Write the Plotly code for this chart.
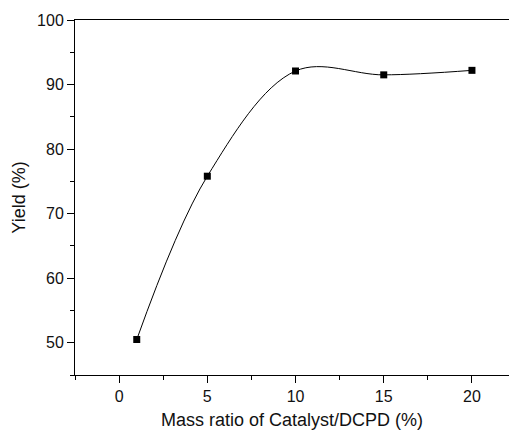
import plotly.graph_objects as go

# Catalyst loading (mass % of DCPD) and the resulting yield
mass_ratio = [1, 5, 10, 15, 20]
yield_pct = [50.5, 75.8, 92.1, 91.5, 92.2]

x_ticks = [0, 5, 10, 15, 20]
y_ticks = [50, 60, 70, 80, 90, 100]

font_family = "Liberation Sans, Arial, sans-serif"

fig = go.Figure()
fig.add_trace(go.Scatter(
    x=mass_ratio,
    y=yield_pct,
    mode="lines+markers",
    line=dict(color="black", width=1, shape="spline", smoothing=1.0),
    marker=dict(symbol="square", size=7, color="black"),
    showlegend=False,
))

axis_common = dict(
    showgrid=False,
    zeroline=False,
    showline=True,
    linecolor="black",
    linewidth=1,
    ticks="outside",
    ticklen=7,
    tickwidth=1,
    tickcolor="black",
    tickfont=dict(family=font_family, size=16, color="#111"),
)

fig.update_xaxes(
    **axis_common,
    range=[-2.5, 22.1],
    tickvals=x_ticks,
    mirror=True,
    minor=dict(ticks="outside", ticklen=4, tickcolor="black", dtick=2.5, tick0=-2.5),
    title=dict(text="Mass ratio of Catalyst/DCPD (%)",
               font=dict(family=font_family, size=18, color="#111"), standoff=9),
)
fig.update_yaxes(
    **axis_common,
    range=[45, 100],
    tickvals=y_ticks,
    minor=dict(ticks="outside", ticklen=4, tickcolor="black", dtick=5, tick0=45),
    title=dict(text="Yield (%)",
               font=dict(family=font_family, size=18, color="#111"), standoff=6),
)

fig.update_layout(
    width=509,
    height=430,
    margin=dict(l=75, r=0, t=20, b=55),
    plot_bgcolor="white",
    paper_bgcolor="white",
)

fig.write_html("out.html")
